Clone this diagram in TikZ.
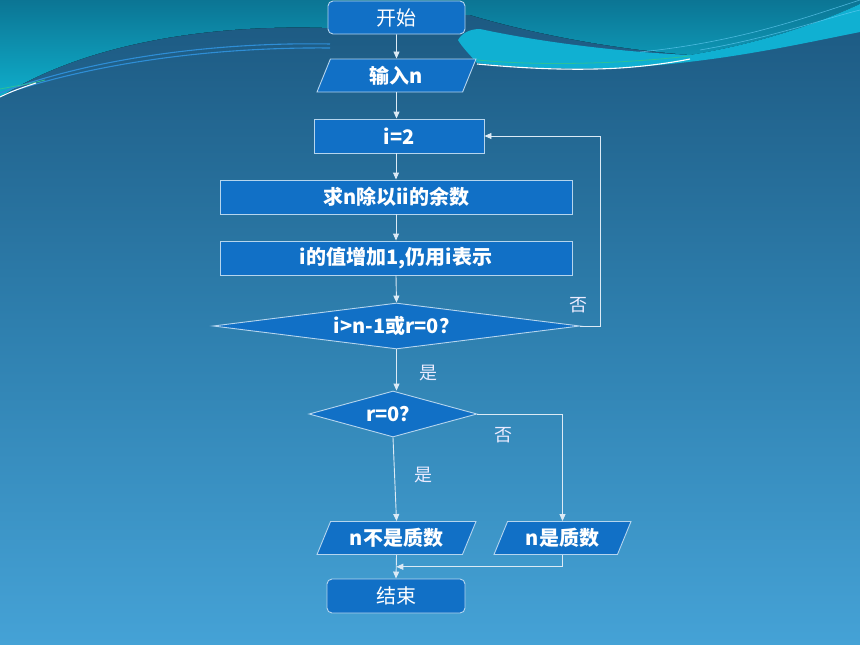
\documentclass[tikz,border=0pt]{standalone}
\usepackage{fontspec}
\setmainfont{Noto Sans CJK SC}
\usetikzlibrary{shapes.geometric,arrows.meta,calc}
\definecolor{boxfill}{HTML}{1170C6}
\definecolor{boxline}{HTML}{B5D5EE}
\definecolor{wire}{HTML}{DCEAF5}
\definecolor{bgtop}{HTML}{1C5880}
\definecolor{bgmid}{HTML}{2E7FAE}
\definecolor{bgbot}{HTML}{45A2D6}
\definecolor{skytop}{HTML}{0C7594}
\definecolor{skybot}{HTML}{0EAECB}
\definecolor{ribbon}{HTML}{10B0D2}
\definecolor{thinblue}{HTML}{2E8ED6}
\definecolor{thingreen}{HTML}{2CC09A}
\begin{document}
\begin{tikzpicture}[x=1pt,y=-1pt,
  box/.style={draw=boxline, line width=0.9pt, fill=boxfill, text=white,
    font=\bfseries\fontsize{20}{22}\selectfont, inner sep=0pt, minimum height=34pt},
  term/.style={box, rounded corners=5pt, font=\fontsize{20}{22}\selectfont},
  io/.style={box, trapezium, trapezium left angle=55, trapezium right angle=125,
    trapezium stretches body, minimum height=33pt},
  dec/.style={box, diamond, minimum height=46pt},
  arr/.style={draw=wire, line width=0.9pt, -{Triangle[length=7pt,width=6pt]}},
  lab/.style={text=white!92!blue, font=\fontsize{18}{20}\selectfont, inner sep=0pt}]
\useasboundingbox (0,0) rectangle (860,645);
% background
\fill[top color=bgtop, bottom color=bgbot, middle color=bgmid] (0,0) rectangle (860,645);
\fill[top color=skytop, bottom color=skybot] (0,0) -- (0,97)
  .. controls (90,40) and (220,24) .. (330,28)
  .. controls (380,30) and (420,12) .. (470,15)
  .. controls (520,30) and (600,48) .. (690,55)
  .. controls (770,42) and (830,18) .. (860,4) -- (860,0) -- cycle;
\fill[ribbon] (458,40) .. controls (462,33) and (470,29) .. (480,29)
  .. controls (540,42) and (620,52) .. (690,55)
  .. controls (770,42) and (830,18) .. (860,4) -- (860,32)
  .. controls (790,46) and (720,62) .. (620,68)
  .. controls (560,70) and (510,67) .. (477,63)
  .. controls (470,55) and (462,47) .. (458,40) -- cycle;
\draw[thinblue, line width=1.1pt] (0,93) .. controls (100,55) and (230,42) .. (330,44);
\draw[thinblue, line width=1.1pt] (10,92) .. controls (110,59) and (230,47) .. (330,48);
\draw[thingreen, line width=0.8pt] (0,89) .. controls (15,86) and (30,84) .. (45,80);
\draw[white, line width=1pt] (0,97) .. controls (12,91) and (24,87) .. (36,83);
\draw[thingreen, line width=0.8pt] (477,60) .. controls (540,66) and (620,64) .. (690,56);
\draw[white, line width=1.1pt] (477,64) .. controls (520,68) and (570,71) .. (620,68)
  .. controls (650,66) and (675,62) .. (690,59);
\draw[cyan!60!white, line width=0.6pt, opacity=0.7] (640,52) .. controls (740,42) and (810,16) .. (860,0);
\draw[cyan!60!white, line width=0.6pt, opacity=0.7] (700,50) .. controls (770,38) and (820,20) .. (860,10);
% nodes
\node[term, minimum width=137pt, minimum height=33pt] (start) at (396.5,17.5) {开始};
\node[io, minimum width=159pt] (in) at (396.5,75.5) {输入n};
\node[box, minimum width=170pt] (i2) at (399,136) {i=2};
\node[box, minimum width=352pt] (rem) at (396,197) {求n除以ii的余数};
\node[box, minimum width=352pt] (inc) at (396,258) {i的值增加1,仍用i表示};
\node[dec, aspect=8, minimum width=367pt] (d1) at (396.5,326) {i>n-1或r=0？};
\node[dec, aspect=3.6, minimum width=168pt] (d2) at (393,414) {r=0？};
\node[io, minimum width=159pt] (nq) at (396.5,538) {n不是质数};
\node[io, minimum width=137pt] (q) at (562.5,538) {n是质数};
\node[term, minimum width=138pt] (end) at (396,596) {结束};
% connectors
\coordinate (lp) at (600,136);
\coordinate (j) at ($(nq.south)!0.5!(end.north)$);
\draw[arr] (start.south) -- (in.north);
\draw[arr] (in.south) -- (in.south |- i2.north);
\draw[arr] (rem.north |- i2.south) -- (rem.north);
\draw[arr] (rem.south) -- (inc.north);
\draw[arr] (inc.south) -- (d1.north);
\draw[arr] (d1.east) -| (lp) -- (i2.east);
\draw[arr] (d1.south) -- (d1.south |- d2.north);
\draw[arr] (d2.south) -- (nq.north);
\draw[arr] (d2.east) -| (q.north);
\draw[arr] (nq.south) -- (end.north);
\draw[arr] (q.south) |- (j);
% labels
\node[lab] (l1) at (578,305) {否};
\node[lab] (l2) at (428,373) {是};
\node[lab] (l3) at (503,435) {否};
\node[lab] (l4) at (423,475) {是};
\end{tikzpicture}
\end{document}
